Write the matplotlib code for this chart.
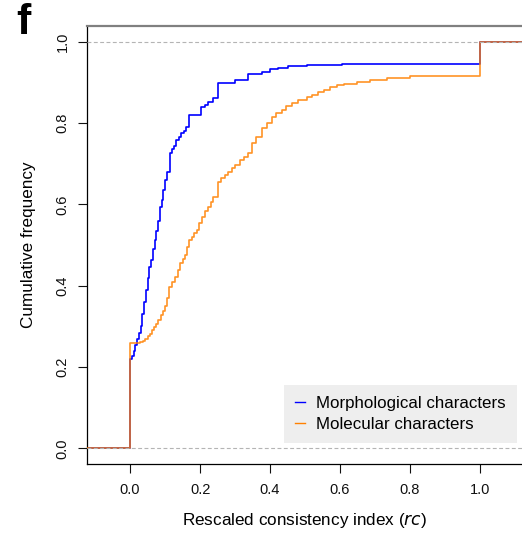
import matplotlib as mpl
mpl.use('Agg')
import matplotlib.pyplot as plt

plt.rcParams['font.family'] = ['Liberation Sans', 'DejaVu Sans']

# cumulative frequency of rescaled consistency index, step points (x, y)
morph_rc = [-0.2, 0.0, 0.005, 0.01, 0.015, 0.02, 0.025, 0.03, 0.035, 0.04,
            0.045, 0.05, 0.055, 0.06, 0.065, 0.07, 0.075, 0.08, 0.086, 0.09,
            0.095, 0.1, 0.105, 0.114, 0.12, 0.125, 0.13, 0.14, 0.146, 0.155,
            0.16, 0.167, 0.202, 0.215, 0.224, 0.238, 0.252, 0.30, 0.336,
            0.376, 0.40, 0.424, 0.45, 0.505, 0.56, 0.605, 1.0, 1.2]
morph_freq = [0.0, 0.219, 0.228, 0.24, 0.255, 0.27, 0.285, 0.30, 0.33, 0.36,
              0.39, 0.42, 0.445, 0.464, 0.49, 0.513, 0.535, 0.56, 0.595, 0.61,
              0.635, 0.66, 0.68, 0.727, 0.737, 0.745, 0.759, 0.765, 0.775, 0.782,
              0.79, 0.82, 0.841, 0.845, 0.853, 0.861, 0.90, 0.906, 0.92,
              0.927, 0.933, 0.937, 0.942, 0.943, 0.944, 0.945, 1.0, 1.0]

mol_rc = [-0.2, 0.0, 0.029, 0.036, 0.043, 0.05, 0.056, 0.062, 0.068, 0.075,
          0.081, 0.088, 0.094, 0.1, 0.106, 0.112, 0.12, 0.129, 0.136, 0.143,
          0.15, 0.157, 0.163, 0.169, 0.176, 0.183, 0.19, 0.198, 0.205, 0.215,
          0.224, 0.232, 0.238, 0.25, 0.26, 0.271, 0.28, 0.29, 0.3, 0.314,
          0.325, 0.336, 0.348, 0.36, 0.376, 0.39, 0.405, 0.418, 0.433, 0.445,
          0.462, 0.481, 0.505, 0.52, 0.538, 0.555, 0.571, 0.59, 0.61, 0.648,
          0.686, 0.733, 0.8, 0.85, 1.0, 1.2]
mol_freq = [0.0, 0.258, 0.262, 0.264, 0.27, 0.276, 0.281, 0.29, 0.298, 0.306,
            0.316, 0.328, 0.338, 0.35, 0.37, 0.398, 0.41, 0.422, 0.44, 0.455,
            0.466, 0.476, 0.495, 0.513, 0.52, 0.53, 0.537, 0.555, 0.57, 0.585,
            0.595, 0.607, 0.619, 0.656, 0.664, 0.673, 0.68, 0.689, 0.698, 0.71,
            0.718, 0.726, 0.751, 0.765, 0.788, 0.80, 0.816, 0.825, 0.833, 0.842,
            0.849, 0.857, 0.865, 0.87, 0.876, 0.882, 0.888, 0.893, 0.897, 0.901,
            0.906, 0.911, 0.915, 0.916, 1.0, 1.0]

x_ticks = [0.0, 0.2, 0.4, 0.6, 0.8, 1.0]
y_ticks = [0.0, 0.2, 0.4, 0.6, 0.8, 1.0]

fig = plt.figure(figsize=(5.22, 5.36), dpi=100)
ax = fig.add_axes([86.7 / 522, 72 / 536, 1 - 86.7 / 522, 438.3 / 536])

ax.plot(morph_rc, morph_freq, drawstyle='steps-post', color='#0000ff',
        lw=1.2, label='Morphological characters', zorder=2)
ax.plot(mol_rc, mol_freq, drawstyle='steps-post', color='#ff8000',
        lw=1.2, alpha=0.85, label='Molecular characters', zorder=3)

# reference lines at 0 and 1
for yv in (0.0, 1.0):
    ax.axhline(yv, color='#b4b4b4', lw=0.8, dashes=(3.5, 2.2), zorder=4)

ax.set_xlim(-0.124, 1.12)
ax.set_ylim(-0.0386, 1.04)
ax.set_xticks(x_ticks)
ax.set_yticks(y_ticks)
ax.set_xticklabels(['%.1f' % v for v in x_ticks])
ax.set_yticklabels(['%.1f' % v for v in y_ticks], rotation=90, va='center')
ax.tick_params(axis='both', direction='out', length=6.7, width=0.8,
               labelsize=10.5, colors='#111111')
ax.tick_params(axis='x', pad=7)
ax.tick_params(axis='y', pad=5.5)

ax.spines['right'].set_visible(False)
ax.spines['top'].set_color('#808080')
ax.spines['top'].set_linewidth(1.6)
ax.spines['left'].set_linewidth(0.9)
ax.spines['bottom'].set_linewidth(0.9)

ax.set_xlabel('Rescaled consistency index ($\\mathit{rc}$)', fontsize=12.3,
              labelpad=10)
ax.set_ylabel('Cumulative frequency', fontsize=12.3, labelpad=14)

leg = ax.legend(loc='lower right', bbox_to_anchor=(517 / 522, 93 / 536),
                bbox_transform=fig.transFigure, fontsize=12.2, frameon=True,
                facecolor='#eeeeee', edgecolor='none', framealpha=1,
                fancybox=False, handlelength=0.55, handletextpad=0.7,
                borderpad=0.65, labelspacing=0.35, borderaxespad=0)
for line in leg.get_lines():
    line.set_linewidth(1.0)
    line.set_alpha(1)

fig.text(16 / 522, 1 - 3 / 536, 'f', fontsize=31, fontweight='bold',
         va='top', ha='left')

fig.savefig('out.png', dpi=100)
